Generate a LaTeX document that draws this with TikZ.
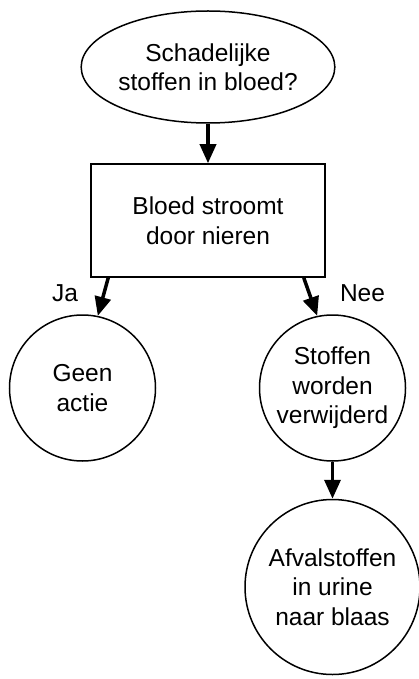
\documentclass[tikz,border=0pt]{standalone}
\usepackage{fontspec}
\setmainfont{Liberation Sans}
\usetikzlibrary{arrows.meta,shapes.geometric}
\tikzset{%
    txt/.style={font=\fontsize{24.5}{29.5}\selectfont, align=center, inner sep=0pt}
}

\begin{document}
\begin{tikzpicture}[->,>={Triangle[length=19pt,width=16pt]},x=1pt,y=1pt,
  line width=1.5pt,
  main node/.style={circle,draw,txt},
  start node/.style={ellipse,draw,txt,minimum width=233pt,minimum height=112pt},
  box node/.style={rectangle,draw,txt,minimum width=234pt,minimum height=113pt}]
  \useasboundingbox (0,0) rectangle (418,-679);

  \node[start node] (vraag) at (208,-67) {Schadelijke\\stoffen in bloed?};
  \node[box node] (bloed) at (208,-220.5) {Bloed stroomt\\door nieren};
  \node[main node,minimum size=146pt] (geen) at (82.5,-388) {Geen\\actie};
  \node[main node,minimum size=146pt] (stoffen) at (332.5,-388) {Stoffen\\worden\\verwijderd};
  \node[main node,minimum size=175pt] (afval) at (332.5,-587) {Afvalstoffen\\in urine\\naar blaas};
\path[line width=3.5pt,every node/.style={txt,inner sep=3.3pt}]
	(vraag) edge (bloed)
	([xshift=18pt]bloed.south west) edge node[left=20pt,yshift=4pt] {Ja} (geen.78)
	([xshift=-22pt]bloed.south east) edge node[right=24.5pt,yshift=4pt] {Nee} (stoffen.102)
	(stoffen) edge (afval);
\end{tikzpicture}
\end{document}
